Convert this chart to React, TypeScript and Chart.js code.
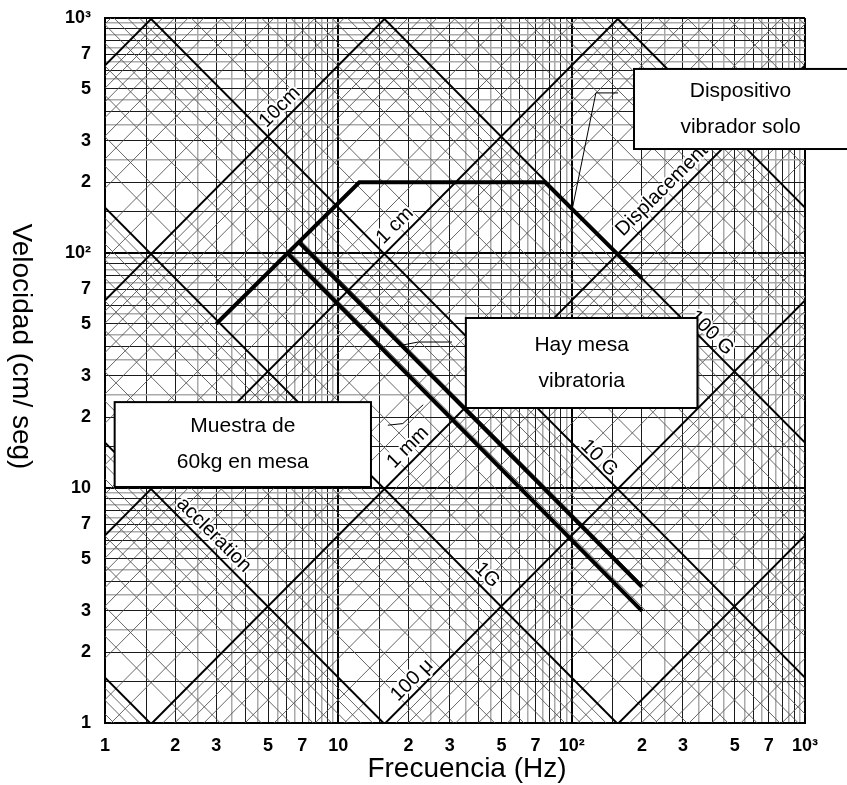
import React, { useEffect, useRef } from 'react';
import { Chart, registerables } from 'chart.js';

Chart.register(...registerables);

const FONT = "'Liberation Sans', Arial, sans-serif";
const TICK_FONT = "'Liberation Sans Narrow', 'Liberation Sans', Arial, sans-serif";

// ---------- data ----------
// grid subdivision per decade
const decadeStarts = [1, 10, 100];
const blackMinor = [1.5, 2, 3, 4, 5, 6, 7, 8, 9];
const grayMinor = [2.5, 3.5, 4.5, 5.5, 6.5, 7.5, 8.5, 9.5];

// tick labels (same on both axes)
const tickValues = [1, 2, 3, 5, 7, 10, 20, 30, 50, 70, 100, 200, 300, 500, 700, 1000];
const tickTexts = ['1', '2', '3', '5', '7', '10', '2', '3', '5', '7', '10²', '2', '3', '5', '7', '10³'];

// tripartite diagonals
const displacementDecadesCm = [1e-5, 1e-4, 1e-3, 1e-2, 1e-1, 1, 10, 100];
const accelerationDecadesG = [1e-3, 1e-2, 1e-1, 1, 10, 100, 1000];
const diagonalMultiples = [1.5, 2, 3, 4, 5, 6, 7, 8, 9];
const G_CM = 980.665;

// thick performance curves (frequency Hz, velocity cm/s)
const soloFreq = [3, 12.3, 77, 200];
const soloVel = [50, 200, 200, 78];
const tableLowFreq = [6.1, 200];
const tableLowVel = [99, 3.0];
const tableHighFreq = [6.85, 200];
const tableHighVel = [110, 3.8];

// diagonal labels: text, frequency, velocity, rotation deg
const diagLabelText = ['10cm', '1 cm', '1 mm', '100 μ', 'Displacement', '100 G', '10 G', '1G', 'accleration'];
const diagLabelFreq = [5.62, 17.5, 19.9, 20.7, 244, 396, 131, 43.4, 2.93];
const diagLabelVel = [418, 131, 14.9, 1.52, 185, 45.7, 13.4, 4.26, 6.31];
const diagLabelRot = [-45, -45, -45, -45, -45, 45, 45, 45, 45];

// callout boxes
const boxLines = [['Dispositivo', 'vibrador solo'], ['Hay mesa', 'vibratoria'], ['Muestra de', '60kg en mesa']];
const boxFreq = [[185, 2000], [35.2, 346], [1.1, 13.8]];
const boxVel = [[607, 277], [52.9, 21.9], [23.2, 10.1]];

// leader lines
const leaderFreq = [[101, 127, 158], [18.9, 22.0, 30.7], [16.3, 18.9, 23.1]];
const leaderVel = [[157, 480, 480], [40.6, 41.8, 41.8], [18.5, 18.8, 22.6]];

const X_TITLE = 'Frecuencia (Hz)';
const Y_TITLE = 'Velocidad (cm/ seg)';

// ---------- helpers ----------
const rnd = (v: number) => Number(v.toPrecision(6));
type Kind = 'major' | 'minor' | 'gray';
const gridMap = new Map<number, Kind>();
decadeStarts.forEach((d) => {
  gridMap.set(d, 'major');
  blackMinor.forEach((m) => gridMap.set(rnd(m * d), 'minor'));
  grayMinor.forEach((m) => gridMap.set(rnd(m * d), 'gray'));
});
gridMap.set(1000, 'major');
const gridValues = Array.from(gridMap.keys()).sort((a, b) => a - b);
const labelMap = new Map<number, string>();
tickValues.forEach((v, i) => labelMap.set(v, tickTexts[i]));

const kindOf = (v: any): Kind => gridMap.get(rnd(Number(v))) || 'minor';
const gridColor = (c: any) => {
  const k = kindOf(c.tick && c.tick.value);
  return k === 'major' ? '#000' : k === 'gray' ? '#aaaaaa' : '#1a1a1a';
};
const gridWidth = (c: any) => {
  const k = kindOf(c.tick && c.tick.value);
  return k === 'major' ? 2 : k === 'gray' ? 1.5 : 1;
};

const axisCommon = (isX: boolean) => ({
  type: 'logarithmic' as const,
  min: 1,
  max: 1000,
  afterBuildTicks: (s: any) => {
    s.ticks = gridValues.map((v) => ({ value: v }));
  },
  afterFit: (s: any) => {
    if (isX) {
      s.height = 62;
      s.paddingLeft = 0;
      s.paddingRight = 0;
    } else {
      s.width = 105;
      s.paddingTop = 0;
      s.paddingBottom = 0;
    }
  },
  grid: { color: gridColor, lineWidth: gridWidth, drawTicks: false },
  border: { display: true, color: '#000', width: 2 },
  ticks: {
    autoSkip: false,
    maxRotation: 0,
    minRotation: 0,
    padding: isX ? 12 : 14,
    color: '#000',
    font: { family: TICK_FONT, size: 18, weight: 'bold' as const },
    callback: (v: any) => labelMap.get(rnd(Number(v))) || '',
  },
});

const diagPlugin = {
  id: 'tripartite',
  beforeDatasetsDraw(chart: any) {
    const { ctx, chartArea: a, scales } = chart;
    const xs = scales.x, ys = scales.y;
    ctx.save();
    ctx.beginPath();
    ctx.rect(a.left, a.top, a.right - a.left, a.bottom - a.top);
    ctx.clip();
    const seg = (f1: number, v1: number, f2: number, v2: number) => {
      ctx.beginPath();
      ctx.moveTo(xs.getPixelForValue(f1), ys.getPixelForValue(v1));
      ctx.lineTo(xs.getPixelForValue(f2), ys.getPixelForValue(v2));
      ctx.stroke();
    };
    const fLo = 0.1, fHi = 10000;
    const dispLine = (dcm: number) => { const K = 2 * Math.PI * dcm; seg(fLo, K * fLo, fHi, K * fHi); };
    const accLine = (aG: number) => { const A = (aG * G_CM) / (2 * Math.PI); seg(fLo, A / fLo, fHi, A / fHi); };
    ctx.strokeStyle = '#555';
    ctx.lineWidth = 0.9;
    displacementDecadesCm.forEach((d) => diagonalMultiples.forEach((m) => dispLine(d * m)));
    accelerationDecadesG.forEach((g) => diagonalMultiples.forEach((m) => accLine(g * m)));
    ctx.strokeStyle = '#000';
    ctx.lineWidth = 2;
    displacementDecadesCm.forEach((d) => dispLine(d));
    accelerationDecadesG.forEach((g) => accLine(g));
    ctx.restore();
  },
  afterDatasetsDraw(chart: any) {
    const { ctx, scales, chartArea: a } = chart;
    const xs = scales.x, ys = scales.y;
    // diagonal labels
    ctx.save();
    ctx.beginPath();
    ctx.rect(a.left, a.top, a.right - a.left, a.bottom - a.top);
    ctx.clip();
    ctx.font = `20px ${FONT}`;
    ctx.textAlign = 'center';
    ctx.textBaseline = 'middle';
    diagLabelText.forEach((t, i) => {
      ctx.save();
      ctx.translate(xs.getPixelForValue(diagLabelFreq[i]), ys.getPixelForValue(diagLabelVel[i]));
      ctx.rotate((diagLabelRot[i] * Math.PI) / 180);
      ctx.strokeStyle = '#fff';
      ctx.lineWidth = 4;
      ctx.lineJoin = 'round';
      ctx.strokeText(t, 0, 0);
      ctx.fillStyle = '#000';
      ctx.fillText(t, 0, 0);
      ctx.restore();
    });
    ctx.restore();

    // leaders
    ctx.save();
    ctx.strokeStyle = '#000';
    ctx.lineWidth = 1;
    leaderFreq.forEach((fs, i) => {
      ctx.beginPath();
      fs.forEach((f, j) => {
        const px = xs.getPixelForValue(f), py = ys.getPixelForValue(leaderVel[i][j]);
        if (j === 0) ctx.moveTo(px, py); else ctx.lineTo(px, py);
      });
      ctx.stroke();
    });
    ctx.restore();

    // boxes
    ctx.save();
    const W = chart.width;
    boxLines.forEach((lines, i) => {
      const x1 = xs.getPixelForValue(boxFreq[i][0]);
      const x2 = xs.getPixelForValue(boxFreq[i][1]);
      const y1 = ys.getPixelForValue(boxVel[i][0]);
      const y2 = ys.getPixelForValue(boxVel[i][1]);
      ctx.fillStyle = '#fff';
      ctx.fillRect(x1, y1, x2 - x1, y2 - y1);
      ctx.strokeStyle = '#000';
      ctx.lineWidth = 2;
      ctx.strokeRect(x1, y1, x2 - x1, y2 - y1);
      const cx = (x1 + Math.min(x2, W)) / 2;
      const cy = (y1 + y2) / 2;
      ctx.fillStyle = '#000';
      ctx.font = `21px ${FONT}`;
      ctx.textAlign = 'center';
      ctx.textBaseline = 'middle';
      lines.forEach((ln, j) => ctx.fillText(ln, cx, cy + (j - (lines.length - 1) / 2) * 36));
    });
    ctx.restore();

    // axis titles
    ctx.save();
    ctx.fillStyle = '#000';
    ctx.font = `28px ${FONT}`;
    ctx.textAlign = 'center';
    ctx.textBaseline = 'alphabetic';
    ctx.fillText(X_TITLE, (a.left + a.right) / 2 + 12, 777);
    ctx.translate(13, (a.top + a.bottom) / 2 - 24);
    ctx.rotate(Math.PI / 2);
    ctx.fillText(Y_TITLE, 0, 0);
    ctx.restore();
  },
};

const toPts = (fs: number[], vs: number[]) => fs.map((f, i) => ({ x: f, y: vs[i] }));

export default function App() {
  const ref = useRef<HTMLCanvasElement | null>(null);
  useEffect(() => {
    document.body.style.margin = '0';
    const canvas = ref.current;
    if (!canvas) return;
    const lineDs = (data: any[]) => ({
      data,
      showLine: true,
      borderColor: '#000',
      backgroundColor: '#000',
      borderWidth: 4,
      pointRadius: 0,
      tension: 0,
      borderCapStyle: 'butt' as const,
      borderJoinStyle: 'miter' as const,
      fill: false,
    });
    const chart = new Chart(canvas, {
      type: 'scatter',
      data: {
        datasets: [
          lineDs(toPts(soloFreq, soloVel)),
          lineDs(toPts(tableLowFreq, tableLowVel)),
          lineDs(toPts(tableHighFreq, tableHighVel)),
        ],
      },
      options: {
        responsive: false,
        animation: false,
        devicePixelRatio: 1,
        layout: { padding: { left: 0, right: 42, top: 18, bottom: 0 } },
        plugins: { legend: { display: false }, tooltip: { enabled: false } },
        scales: { x: axisCommon(true) as any, y: axisCommon(false) as any },
      },
      plugins: [diagPlugin],
    });
    return () => chart.destroy();
  }, []);
  return (
    <div style={{ position: 'absolute', left: 0, top: 0, width: 847, height: 785, background: '#fff' }}>
      <canvas ref={ref} width={847} height={785} style={{ display: 'block' }} />
    </div>
  );
}
